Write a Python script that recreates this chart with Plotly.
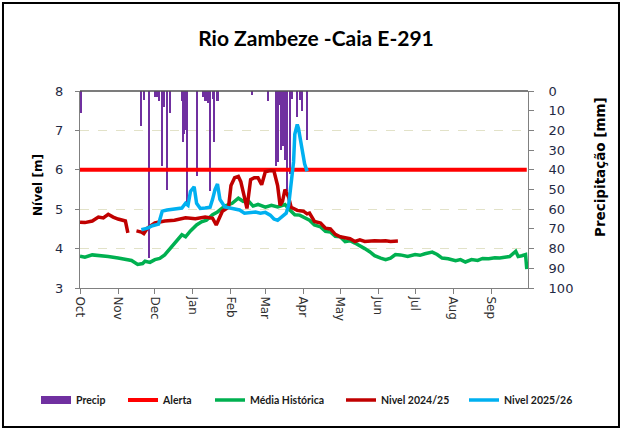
import plotly.graph_objects as go
import pandas as pd

# ---------------- data ----------------
start = pd.Timestamp("2024-10-01")
end = pd.Timestamp("2025-10-01")
month_labels = ["Oct", "Nov", "Dec", "Jan", "Feb", "Mar", "Apr", "May", "Jun", "Jul", "Aug", "Sep"]

alert_level = 6.0

media_days = [0, 4, 10, 16, 23, 31, 37, 42, 47, 51, 53, 57, 61, 65, 69, 75, 79, 83, 86, 90,
              95, 99, 103, 108, 112, 118, 124, 129, 133, 137, 141, 145, 151, 156, 161, 167, 171,
              175, 179, 183, 187, 191, 196, 200, 204, 208, 212, 216, 220, 224, 228, 232, 236,
              240, 245, 249, 253, 257, 261, 267, 273, 277, 281, 287, 291, 295, 300, 306, 310,
              314, 319, 324, 328, 333, 338, 342, 346, 350, 355, 357, 360, 363, 364]
media_vals = [3.81, 3.78, 3.84, 3.83, 3.80, 3.76, 3.72, 3.70, 3.60, 3.62, 3.68, 3.65, 3.72, 3.75,
              3.84, 4.05, 4.20, 4.35, 4.30, 4.45, 4.60, 4.68, 4.72, 4.86, 4.93, 5.08, 5.15, 5.28,
              5.20, 5.22, 5.08, 5.12, 5.05, 5.10, 5.06, 5.12, 4.98, 4.86, 4.85, 4.78, 4.72, 4.60,
              4.55, 4.44, 4.42, 4.31, 4.30, 4.18, 4.20, 4.14, 4.08, 4.00, 3.92, 3.82, 3.76, 3.72,
              3.76, 3.85, 3.84, 3.80, 3.85, 3.83, 3.87, 3.91, 3.85, 3.76, 3.74, 3.69, 3.72, 3.66,
              3.72, 3.70, 3.75, 3.74, 3.77, 3.76, 3.78, 3.80, 3.93, 3.80, 3.82, 3.85, 3.48]

n2425_days = [0, 4, 10, 15, 19, 23, 27, 31, 37, 38, 39, 42, 46, 50, 52, 55, 61, 69, 77, 86, 94,
              102, 108, 111, 116, 121, 123, 126, 129, 131, 134, 136, 139, 142, 145, 148, 151, 155,
              158, 161, 163, 165, 167, 170, 172, 177, 182, 185, 187, 191, 196, 200, 204, 208, 212,
              216, 220, 224, 228, 232, 236, 240, 245, 249, 253, 259]
n2425_vals = [4.67, 4.66, 4.70, 4.80, 4.78, 4.87, 4.80, 4.75, 4.70, 4.55, 4.40, None, 4.45, 4.42,
              4.38, 4.52, 4.65, 4.70, 4.72, 4.78, 4.76, 4.80, 4.77, 4.60, 4.95, 5.05, 5.60, 5.80,
              5.83, 5.70, 5.30, 5.02, 5.75, 5.80, 5.80, 5.62, 5.95, 5.98, 5.97, 5.60, 5.10, 5.20,
              5.50, 5.30, 5.05, 4.97, 4.95, 4.88, 4.90, 4.69, 4.65, 4.52, 4.50, 4.36, 4.30, 4.27,
              4.25, 4.18, 4.22, 4.18, 4.20, 4.20, 4.19, 4.20, 4.18, 4.19]

n2526_days = [50, 55, 59, 61, 64, 65, 67, 71, 75, 79, 83, 86, 88, 90, 93, 95, 98, 102, 106, 108,
              110, 112, 114, 118, 122, 126, 130, 134, 139, 143, 147, 151, 155, 158, 161, 165, 168,
              170, 172, 174, 175, 177, 178, 180, 182, 183, 185]
n2526_vals = [4.48, 4.52, 4.58, 4.60, 4.62, 4.73, 4.95, 4.98, 5.00, 5.00, 5.03, 5.15, 5.10, 5.45,
              5.57, 5.15, 5.02, 5.03, 5.05, 5.25, 5.50, 5.64, 5.25, 5.06, 5.03, 5.00, 4.98, 4.90,
              4.92, 4.93, 4.90, 4.92, 4.85, 4.75, 4.72, 4.82, 4.90, 5.10, 5.60, 6.20, 6.90, 7.15,
              7.05, 6.70, 6.40, 6.15, 5.96]

precip_days = [1, 50, 52, 56, 61, 63, 64, 67, 68, 71, 73, 83, 84, 85, 86, 87, 95, 100, 102, 103,
               104, 106, 108, 109, 112, 140, 153, 160, 161, 162, 164, 165, 167, 169, 171, 173,
               177, 179, 181, 185]
precip_mm = [11, 18, 4.5, 85, 3, 3, 5, 38, 8, 50, 11, 5, 26, 22, 20, 57, 43, 3, 5, 5,
             6, 51, 4, 26, 5, 2, 5, 38, 36, 7, 30, 28, 35, 51, 42, 4,
             13, 4.5, 10, 25]


def to_dates(days):
    return [start + pd.Timedelta(days=d) for d in days]


PURPLE = "#7030a0"
RED = "#ff0000"
GREEN = "#00b050"
DARKRED = "#c00000"
BLUE = "#00b0f0"

fig = go.Figure()

# precipitation bars (primary y axis placed on the right, reversed)
fig.add_trace(go.Bar(x=to_dates(precip_days), y=precip_mm, marker_color=PURPLE,
                     marker_line_width=0, width=1.7 * 86400000, yaxis="y",
                     showlegend=False, name="Precip"))

# legend entry for precipitation and level lines
fig.add_trace(go.Scatter(x=[None], y=[None], mode="lines", name="Precip",
                         line=dict(color=PURPLE, width=8), yaxis="y2", legend="legend"))
fig.add_trace(go.Scatter(x=[start, end - pd.Timedelta(days=1)], y=[alert_level, alert_level],
                         mode="lines", name="Alerta", line=dict(color=RED, width=4), yaxis="y2",
                         legend="legend2"))
fig.add_trace(go.Scatter(x=to_dates(media_days), y=media_vals, mode="lines", name="Média Histórica",
                         line=dict(color=GREEN, width=3.5), yaxis="y2", legend="legend3"))
fig.add_trace(go.Scatter(x=to_dates(n2425_days), y=n2425_vals, mode="lines", name="Nivel 2024/25",
                         line=dict(color=DARKRED, width=3.5), yaxis="y2", connectgaps=False,
                         legend="legend4"))
fig.add_trace(go.Scatter(x=to_dates(n2526_days), y=n2526_vals, mode="lines", name="Nivel 2025/26",
                         line=dict(color=BLUE, width=3.5), yaxis="y2", legend="legend5"))

tick_dates = list(pd.date_range(start, periods=12, freq="MS"))

legend_font = dict(family="Lato", size=10.5, color="#1a1a1a", weight="bold")
legend_x_px = [36, 123, 210, 341, 464]


def legend_cfg(px):
    return dict(orientation="h", x=(px - 80) / 448, xanchor="left", y=-0.5685,
                yanchor="middle", font=legend_font, bgcolor="rgba(0,0,0,0)")


fig.update_layout(
    width=622, height=430,
    margin=dict(l=80, r=94, t=91, b=142),
    paper_bgcolor="white", plot_bgcolor="white",
    title=dict(text="<b>Rio Zambeze -Caia E-291</b>", x=316 / 622, xanchor="center",
               y=1 - 39 / 430, yanchor="middle",
               font=dict(family="Lato", size=21, color="#000000")),
    bargap=0,
    xaxis=dict(range=[start, end], tickvals=tick_dates, ticktext=month_labels,
               tickangle=90, ticks="outside", ticklen=5, tickcolor="#808080",
               showline=True, linecolor="#808080", linewidth=1, showgrid=False,
               zeroline=False, tickfont=dict(family="DejaVu Sans", size=12, color="#303030")),
    yaxis=dict(side="right", range=[100, 0], tickvals=list(range(0, 101, 10)),
               ticks="outside", ticklen=5, tickcolor="#808080", showline=True,
               linecolor="#808080", showgrid=False, zeroline=False, ticklabelstandoff=12,
               tickfont=dict(family="DejaVu Sans", size=13, color="#1f2a44")),
    yaxis2=dict(overlaying="y", side="left", range=[3, 8], tickvals=[3, 4, 5, 6, 7, 8],
                ticks="outside", ticklen=4, tickcolor="#808080", showline=True,
                linecolor="#808080", showgrid=True, gridcolor="#e2e2c8", griddash="dash",
                gridwidth=1, zeroline=False, ticklabelstandoff=9,
                tickfont=dict(family="DejaVu Sans", size=13, color="#1f2a44")),
    legend=legend_cfg(legend_x_px[0]),
    legend2=legend_cfg(legend_x_px[1]),
    legend3=legend_cfg(legend_x_px[2]),
    legend4=legend_cfg(legend_x_px[3]),
    legend5=legend_cfg(legend_x_px[4]),
    annotations=[
        dict(text="<b>Precipitação [mm]</b>", xref="paper", yref="paper",
             x=(600 - 80) / 448, y=(288 - 167) / 197, textangle=-90, showarrow=False,
             xanchor="center", yanchor="middle",
             font=dict(family="DejaVu Sans", size=13.5, color="#000000")),
        dict(text="<b>Nível [m]</b>", xref="paper", yref="paper",
             x=(38 - 80) / 448, y=(288 - 185) / 197, textangle=-90, showarrow=False,
             xanchor="center", yanchor="middle",
             font=dict(family="DejaVu Sans", size=12, color="#000000")),
    ],
    shapes=[
        dict(type="line", xref="paper", yref="paper", x0=0, x1=1, y0=1, y1=1,
             line=dict(color="#505050", width=1.5)),
        dict(type="rect", xref="paper", yref="paper", x0=-0.1719, x1=1.2031,
             y0=-0.7056, y1=1.4467, line=dict(color="#000000", width=2)),
    ],
)

fig.write_html("out.html", config={"displayModeBar": False},
               post_script="document.body.style.margin='0px';")
